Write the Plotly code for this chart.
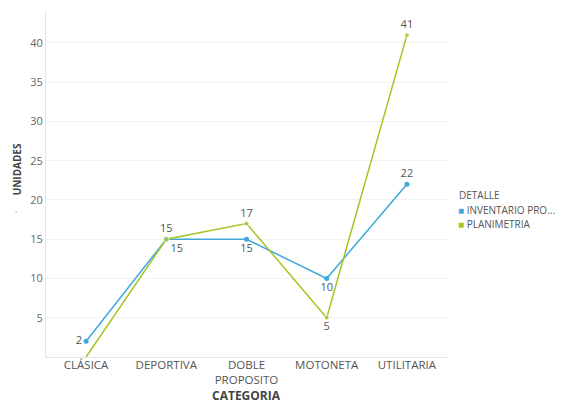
import plotly.graph_objects as go

categorias = ["CLÁSICA", "DEPORTIVA", "DOBLE PROPOSITO", "MOTONETA", "UTILITARIA"]
etiquetas_x = ["CLÁSICA", "DEPORTIVA", "DOBLE<br>PROPOSITO", "MOTONETA", "UTILITARIA"]
inventario = [2, 15, 15, 10, 22]
planimetria = [0, 15, 17, 5, 41]
texto_planimetria = ["", "15", "17", "5", "41"]
series_leyenda = ["INVENTARIO PRO...", "PLANIMETRIA"]

azul = "#3FA9DB"
verde = "#A3C423"
fuente = "Open Sans, Segoe UI, sans-serif"
gris_texto = "#555555"

fig = go.Figure()
fig.add_trace(go.Scatter(
    x=categorias, y=inventario, name=series_leyenda[0],
    mode="lines+markers+text", showlegend=False,
    line=dict(color=azul, width=1.5),
    marker=dict(color=azul, size=5),
    text=[str(v) for v in inventario],
    textposition=["middle left", "bottom right", "bottom center", "bottom center", "top center"],
    textfont=dict(size=11, color=gris_texto, family=fuente),
    cliponaxis=False,
))
fig.add_trace(go.Scatter(
    x=categorias, y=planimetria, name=series_leyenda[1],
    mode="lines+markers+text", showlegend=False,
    line=dict(color=verde, width=1.5),
    marker=dict(color=verde, size=[0, 5, 5, 5, 5]),
    text=texto_planimetria,
    textposition=["top center", "top center", "top center", "bottom center", "top center"],
    textfont=dict(size=11, color=gris_texto, family=fuente),
    cliponaxis=True,
))

fig.update_layout(
    width=561, height=404,
    margin=dict(l=46, r=114, t=10, b=47, autoexpand=False),
    paper_bgcolor="white", plot_bgcolor="white",
    font=dict(family=fuente, color="#666666", size=11),
    showlegend=False,
    xaxis=dict(
        tickmode="array", tickvals=categorias, ticktext=etiquetas_x,
        range=[-0.5, 4.5], automargin=False,
        showgrid=False, showline=True, linecolor="#e6e6e6", linewidth=1,
        tickfont=dict(size=11.5, color=gris_texto),
        ticklabelstandoff=-3,
        zeroline=False,
    ),
    yaxis=dict(
        range=[0, 44.2], automargin=False,
        tickvals=[5, 10, 15, 20, 25, 30, 35, 40],
        showgrid=True, gridcolor="#f2f2f2",
        showline=True, linecolor="#e6e6e6", linewidth=1,
        tickfont=dict(size=11, color="#666666"),
        zeroline=False, ticks="", ticklen=0,
    ),
)

# axis titles
fig.add_annotation(
    xref="paper", yref="paper", x=0.5, y=-0.112, yanchor="middle",
    text="<b>CATEGORIA</b>", showarrow=False,
    font=dict(size=12, color="#444444"),
)
fig.add_annotation(
    xref="paper", yref="paper", x=-0.073, y=0.54, xanchor="center", yanchor="middle",
    text="<b>UNIDADES</b>", textangle=-90, showarrow=False,
    font=dict(size=10, color="#444444"),
)
# sort indicator beneath the axis title
fig.add_annotation(
    xref="paper", yref="paper", x=-0.082, y=0.418, text="●", showarrow=False,
    font=dict(size=4, color="#c8c8c8"),
)

# legend built from colored squares and labels
fig.add_annotation(
    xref="paper", yref="paper", x=1.025, y=0.468, xanchor="left", yanchor="middle",
    text="DETALLE", showarrow=False, font=dict(size=10, color=gris_texto),
)
for i, (nombre, color) in enumerate(zip(series_leyenda, [azul, verde])):
    fig.add_annotation(
        xref="paper", yref="paper", x=1.022, y=0.425 - i * 0.043,
        xanchor="left", yanchor="middle", showarrow=False,
        text=f"<span style='color:{color}'>■</span> {nombre}",
        font=dict(size=10, color=gris_texto),
    )

fig.write_html("out.html")
